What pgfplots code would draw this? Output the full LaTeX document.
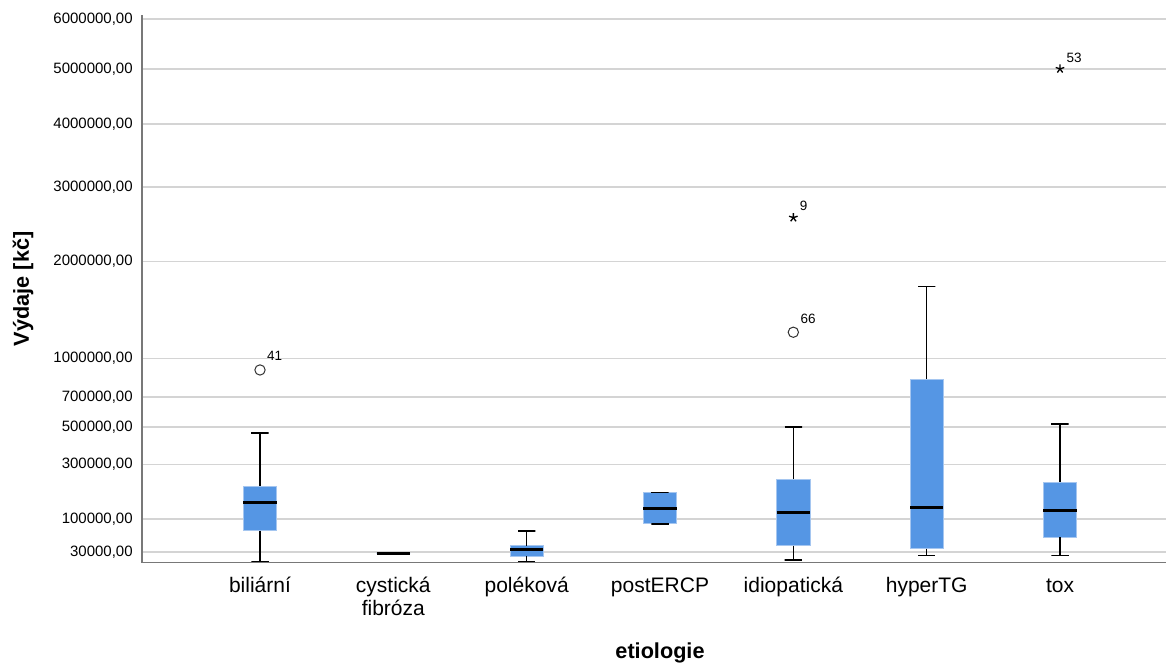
\documentclass[border=0pt]{standalone}
\usepackage{fontspec}
\setmainfont{Liberation Sans}
\usepackage{pgfplots}
\pgfplotsset{compat=1.18}

\definecolor{boxfill}{RGB}{85,150,228}
\definecolor{boxedge}{RGB}{165,198,240}
\definecolor{gridgray}{RGB}{212,212,212}
\definecolor{axisgray}{RGB}{120,120,120}
\definecolor{markgray}{RGB}{50,50,50}

% square-root scale on the value axis (fpu in a group, since values reach millions)
\pgfplotsset{
  sqrt y/.style={
    y coord trafo/.code={\begingroup\pgfkeys{/pgf/fpu=true,/pgf/fpu/output format=fixed}\pgfmathparse{sqrt(##1)}\xdef\sqrttmp{\pgfmathresult}\endgroup\let\pgfmathresult\sqrttmp},
    y coord inv trafo/.code={\begingroup\pgfkeys{/pgf/fpu=true,/pgf/fpu/output format=fixed}\pgfmathparse{(##1)*(##1)}\xdef\sqrttmp{\pgfmathresult}\endgroup\let\pgfmathresult\sqrttmp},
  },
}

% one box: position, lower whisker, lower quartile, median, upper quartile, upper whisker
\newcommand\costbox[6]{%
  \pgfmathsetmacro\boxleft{#1-0.125}\pgfmathsetmacro\boxright{#1+0.125}%
  \pgfmathsetmacro\capleft{#1-0.065}\pgfmathsetmacro\capright{#1+0.065}%
  \addplot [fill=boxfill, draw=boxedge, line width=0.5pt] coordinates {(\boxleft,#3) (\boxright,#3) (\boxright,#5) (\boxleft,#5)} -- cycle;
  \addplot [black, line width=0.9pt] coordinates {(\capleft,#6) (\capright,#6) (#1,#6) (#1,#5)};
  \addplot [black, line width=0.9pt] coordinates {(#1,#3) (#1,#2) (\capleft,#2) (\capright,#2)};
  \addplot [black, line width=1.8pt] coordinates {(\boxleft,#4) (\boxright,#4)};
}

\begin{document}
\begin{tikzpicture}
\useasboundingbox (0,0) rectangle (699.6pt,397.8pt);
\begin{axis}[
  at={(85.2pt,60.18pt)}, anchor=south west,
  scale only axis, width=614.4pt, height=328.6pt,
  sqrt y,
  xmin=-0.885, xmax=6.795,
  ymin=16600, ymax=6080000,
  axis x line*=bottom, axis y line*=left,
  axis line style={axisgray, line width=0.9pt, -},
  ymajorgrids, grid style={gridgray, line width=1.1pt},
  major tick length=0pt,
  xtick={0,1,2,3,4,5,6},
  xticklabels={\strut biliární, {\strut cystická\\fibróza}, \strut poléková, \strut postERCP, \strut idiopatická, \strut hyperTG, \strut tox},
  xticklabel style={align=center, font=\fontsize{12.6}{13.8}\selectfont, inner sep=0pt, anchor=north, yshift=-8pt},
  ytick={30000,100000,300000,500000,700000,1000000,2000000,3000000,4000000,5000000,6000000},
  yticklabels={{30000,00},{100000,00},{300000,00},{500000,00},{700000,00},{1000000,00},{2000000,00},{3000000,00},{4000000,00},{5000000,00},{6000000,00}},
  yticklabel style={font=\fontsize{9}{10}\selectfont, inner sep=0pt, anchor=east, xshift=-5.4pt},
  xlabel={etiologie},
  xlabel style={font=\fontsize{13}{15}\selectfont\bfseries, at={(rel axis cs:0.5,0)}, anchor=base, inner sep=0pt, yshift=-57.2pt, xshift=3.6pt},
  ylabel={Výdaje [kč]},
  ylabel style={font=\fontsize{13}{15}\selectfont\bfseries, at={(rel axis cs:0,0.5)}, anchor=center, inner sep=0pt, yshift=71.4pt},
  clip=false,
]
\costbox{0}{18200}{70400}{149500}{208000}{465700}     % biliární
\costbox{1}{27900}{27900}{27900}{27900}{27900}        % cystická fibróza
\costbox{2}{18200}{24800}{34000}{40600}{69700}        % poléková
\costbox{3}{86500}{88200}{130300}{183000}{184300}     % postERCP
\costbox{4}{19700}{40600}{118300}{236000}{501000}     % idiopatická
\costbox{5}{25700}{35700}{133400}{831000}{1708000}    % hyperTG
\costbox{6}{25700}{56700}{123900}{224000}{518000}     % tox

% outliers (circles) and extreme values (stars), labelled with case numbers
\addplot [only marks, mark=o, mark size=3.1pt, draw=markgray, line width=0.6pt,
  point meta=explicit symbolic, nodes near coords,
  nodes near coords style={anchor=base west, font=\fontsize{8.1}{9}\selectfont, inner sep=0pt, xshift=4pt, yshift=5.4pt, text=black}]
  coordinates {(0,904800) [41] (4,1237000) [66]};
\addplot [only marks, mark=star, mark size=2.7pt, draw=black, line width=0.8pt,
  point meta=explicit symbolic, nodes near coords,
  nodes near coords style={anchor=base west, font=\fontsize{8.1}{9}\selectfont, inner sep=0pt, xshift=3.5pt, yshift=4pt, text=black}]
  coordinates {(4,2564000) [9] (6,5000000) [53]};
\end{axis}
\end{tikzpicture}
\end{document}
